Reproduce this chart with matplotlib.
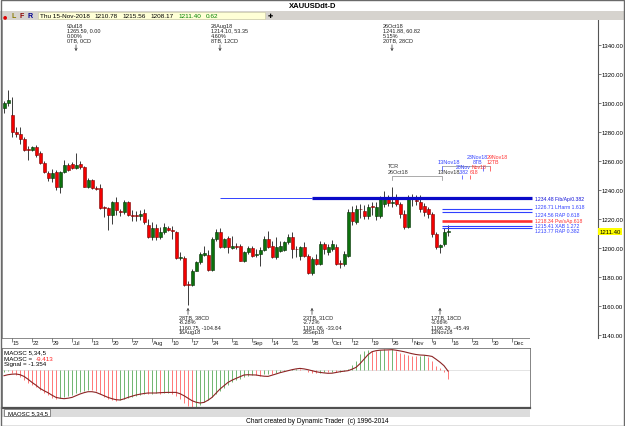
import numpy as np
import pandas as pd
import matplotlib
matplotlib.use('Agg')
import matplotlib.pyplot as plt
from matplotlib.patches import Rectangle

plt.rcParams['font.family'] = ['Liberation Sans Narrow', 'Liberation Sans', 'DejaVu Sans']

W, H = 625, 427

# daily XAUUSD bars, one per weekday from 13-Jun-2018 to 15-Nov-2018
opens = [1296.3, 1299.8, 1292.0, 1279.8, 1278.6, 1275.2, 1268.2, 1267.8, 1269.4, 1265.5,
         1258.8, 1251.9, 1248.3, 1252.2, 1241.8, 1252.4, 1257.0, 1257.9, 1255.2, 1257.9,
         1255.6, 1242.3, 1246.9, 1241.4, 1241.1, 1227.8, 1227.6, 1223.0, 1231.5, 1225.4,
         1224.6, 1231.5, 1222.8, 1223.0, 1221.8, 1223.9, 1216.1, 1207.8, 1213.8, 1207.4,
         1210.8, 1213.8, 1212.6, 1211.3, 1193.1, 1193.1, 1174.7, 1174.7, 1184.4, 1190.1,
         1195.4, 1195.4, 1184.8, 1206.2, 1210.8, 1200.9, 1206.9, 1200.0, 1201.1, 1201.6,
         1191.3, 1197.0, 1200.0, 1195.2, 1195.9, 1198.6, 1206.2, 1201.4, 1193.6, 1198.0,
         1198.6, 1203.9, 1207.3, 1199.3, 1194.7, 1200.9, 1194.7, 1182.5, 1192.4, 1189.0,
         1202.8, 1197.0, 1199.3, 1200.4, 1189.4, 1189.0, 1194.7, 1224.6, 1217.7, 1226.9,
         1225.7, 1222.3, 1228.5, 1222.3, 1222.3, 1230.3, 1233.8, 1231.2, 1234.9, 1230.3,
         1223.4, 1214.7, 1234.9, 1232.6, 1231.5, 1229.2, 1226.9, 1223.4, 1209.6, 1201.0,
         1202.8, 1210.78]
highs = [1301.6, 1309.0, 1303.9, 1283.2, 1283.7, 1276.3, 1270.6, 1270.3, 1271.0, 1267.1,
         1259.8, 1252.9, 1254.5, 1253.8, 1252.9, 1260.7, 1258.6, 1259.0, 1265.6, 1259.8,
         1256.8, 1248.3, 1247.6, 1243.0, 1244.1, 1229.2, 1228.0, 1232.2, 1234.9, 1226.9,
         1233.1, 1232.6, 1226.2, 1225.5, 1226.0, 1226.9, 1220.0, 1217.6, 1216.6, 1214.2,
         1217.0, 1215.4, 1215.4, 1211.9, 1197.0, 1194.7, 1177.5, 1185.5, 1191.2, 1197.0,
         1201.6, 1198.6, 1207.3, 1213.0, 1214.1, 1207.0, 1208.5, 1208.0, 1203.2, 1202.8,
         1198.2, 1201.6, 1201.6, 1199.3, 1200.5, 1208.5, 1211.9, 1205.0, 1207.3, 1205.0,
         1205.0, 1209.6, 1210.8, 1201.6, 1201.6, 1204.0, 1196.0, 1193.6, 1196.0, 1204.5,
         1204.0, 1203.0, 1205.5, 1203.0, 1192.0, 1198.0, 1227.0, 1229.0, 1229.5, 1230.5,
         1229.5, 1230.3, 1232.0, 1232.0, 1236.0, 1239.5, 1236.5, 1241.88, 1237.5, 1232.0,
         1226.0, 1236.5, 1237.0, 1236.8, 1236.5, 1231.0, 1228.5, 1225.0, 1211.0, 1203.0,
         1214.0, 1215.56]
lows = [1292.9, 1298.2, 1276.3, 1276.3, 1271.7, 1267.1, 1260.7, 1267.1, 1262.5, 1257.9,
        1251.5, 1246.4, 1245.3, 1240.0, 1238.2, 1251.5, 1252.9, 1254.3, 1254.5, 1254.5,
        1241.8, 1241.4, 1240.7, 1240.0, 1226.9, 1221.4, 1212.4, 1216.5, 1223.0, 1222.3,
        1223.5, 1222.3, 1218.4, 1218.8, 1219.3, 1216.5, 1206.9, 1205.5, 1205.5, 1206.2,
        1209.6, 1212.0, 1206.2, 1192.4, 1191.7, 1174.0, 1160.75, 1174.0, 1183.9, 1189.0,
        1194.7, 1183.9, 1183.9, 1205.0, 1200.0, 1200.0, 1196.3, 1199.3, 1199.3, 1190.8,
        1190.1, 1195.9, 1193.6, 1193.6, 1187.8, 1198.2, 1200.0, 1193.1, 1192.4, 1197.0,
        1198.2, 1202.8, 1193.1, 1193.6, 1192.0, 1193.6, 1181.8, 1181.06, 1188.5, 1188.0,
        1196.0, 1195.5, 1198.0, 1188.5, 1186.3, 1187.5, 1194.0, 1216.0, 1216.5, 1221.0,
        1220.0, 1220.0, 1222.5, 1219.0, 1221.0, 1228.0, 1229.0, 1228.5, 1229.0, 1221.0,
        1212.8, 1213.5, 1229.0, 1229.5, 1225.0, 1222.0, 1221.0, 1207.5, 1199.0, 1196.29,
        1201.5, 1208.17]
closes = [1299.8, 1302.1, 1279.8, 1278.6, 1275.2, 1267.8, 1267.8, 1269.4, 1264.4, 1258.4,
          1252.2, 1248.3, 1251.9, 1241.8, 1252.2, 1257.0, 1254.0, 1255.2, 1257.5, 1255.6,
          1242.3, 1246.9, 1241.4, 1241.0, 1227.6, 1227.4, 1223.0, 1231.5, 1226.2, 1224.8,
          1231.5, 1222.8, 1222.3, 1221.8, 1223.4, 1218.2, 1207.8, 1213.8, 1207.4, 1210.8,
          1214.3, 1212.6, 1211.5, 1193.1, 1193.4, 1174.7, 1174.4, 1184.4, 1190.1, 1195.9,
          1196.3, 1184.8, 1206.2, 1210.8, 1200.9, 1206.2, 1200.5, 1201.4, 1201.0, 1191.3,
          1197.0, 1200.0, 1194.7, 1195.9, 1198.6, 1206.2, 1200.9, 1193.6, 1200.9, 1201.6,
          1203.9, 1207.3, 1199.3, 1199.0, 1200.4, 1194.7, 1182.5, 1192.4, 1189.0, 1202.8,
          1199.3, 1200.4, 1202.8, 1189.0, 1189.2, 1195.9, 1224.6, 1218.9, 1226.9, 1226.6,
          1222.3, 1228.0, 1228.3, 1228.0, 1233.8, 1233.8, 1230.8, 1231.5, 1230.3, 1223.4,
          1214.7, 1233.8, 1234.4, 1232.3, 1226.9, 1224.6, 1223.4, 1209.6, 1200.9, 1202.0,
          1210.8, 1211.40]

# MAOSC 5,34,5 histogram and its signal line
maosc = [-2, -1.5, -3, -5, -7, -10, -13, -15, -17, -20,
         -23, -25, -28, -29, -28, -27, -26, -25, -23, -22,
         -21, -20, -20, -21, -24, -27, -29, -30, -31, -30,
         -29, -28, -27, -26, -25, -24, -24.5, -24, -23, -24,
         -23.5, -23, -24, -26, -29, -33, -36, -38, -37, -35,
         -32, -30, -27, -24, -21, -18, -15, -12, -10, -9,
         -7.5, -6.5, -5, -5.5, -6, -4.5, -4, -4.5, -3.5, -2.5,
         -1.5, 0, 0.5, 1, 0.5, -0.5, -2, -3, -3.5, -3,
         -2.5, -2.5, -2, -2.5, -2, -1, 1, 4.7, 9, 15.7,
         19, 20, 19, 18.7, 20, 20.3, 19.5, 20.7, 19, 16.7,
         15.7, 14.7, 14, 13.3, 14, 14.3, 12.3, 9, 4, 1.3,
         -2.7, -9.413]
signal = [-6, -5, -4.5, -4.3, -5, -6.7, -9.5, -12.7, -15.5, -18.7,
          -21, -23, -25.5, -27.7, -28.5, -29, -28.5, -27.7, -26, -24.3,
          -23, -22, -22, -22.7, -24.3, -26, -27.7, -29, -30, -30.3,
          -29.2, -27.7, -26.5, -25.3, -24.5, -23.8, -23.3, -23.3, -23.3, -23,
          -22.8, -22.7, -22.7, -22.7, -24, -26, -28.5, -31, -32.5, -33.3,
          -32.7, -30.5, -27.7, -23.5, -19.3, -16, -12.7, -10.5, -8.7, -7,
          -5.3, -5, -5.2, -5.3, -6, -6.5, -6.7, -5.5, -4.3, -3,
          -2, -1, 0, 0.8, 1.3, 0.8, 0, -1, -2, -2.7,
          -3.2, -3.6, -3.5, -2.8, -2, -1.5, -1, 0.5, 2.3, 6,
          10.5, 15, 18, 19, 19.5, 19.7, 19.8, 20, 19.5, 18.8,
          18, 17, 16, 15.2, 14.7, 14.5, 14, 13.3, 10.5, 7.5,
          4, -1.354]

first_day = '2018-06-13'
axis_end = '2018-12-07'
price_ticks = list(range(1140, 1341, 20))

level_prices = [1234.48, 1226.71, 1224.56, 1218.34, 1215.41, 1213.77]
level_labels = ['1234.48 Fib/Ap/0.382', '1226.71 LHarm 1.618', '1224.56 RAP 0.618',
                '1218.34 Pw/sAp.618', '1215.41 XAB 1.272', '1213.77 RAP 0.382']
level_colors = ['#1010d8', '#3040ff', '#3040ff', '#ff3030', '#3040ff', '#3040ff']

top_idx = [18, 54, 97]
top_notes = ['9Jul18\n1265.59, 0.00\n0.00%\n0TB, 0CD',
             '28Aug18\n1214.10, 53.35\n4.60%\n8TB, 12CD',
             '26Oct18\n1241.88, 60.82\n5.15%\n20TB, 28CD']
bot_idx = [46, 77, 109]
bot_notes = ['28TB, 38CD\n-8.28%\n1160.75, -104.84\n16Aug18',
             '23TB, 31CD\n-2.72%\n1181.06, -33.04\n28Sep18',
             '12TB, 18CD\n-3.66%\n1196.29, -45.49\n13Nov18']

header_date = 'Thu 15-Nov-2018'
header_vals = ['1210.78', '1215.56', '1208.17', '1211.40', '0.62']


def fx(px):
    return px / W


def fy(py):
    return 1 - py / H


def ax_px(l, t, w, h):
    return fig.add_axes([l / W, 1 - (t + h) / H, w / W, h / H])


fig = plt.figure(figsize=(W / 100, H / 100), dpi=100)
fig.patch.set_facecolor('white')

# header strip
fig.patches.append(Rectangle((0, fy(20.5)), 1, 8.5 / H, transform=fig.transFigure,
                             facecolor='#d6d3ce', edgecolor='none'))
fig.patches.append(Rectangle((fx(38), fy(20)), 227 / W, 7.5 / H, transform=fig.transFigure,
                             facecolor='#ffffd6', edgecolor='#c8c8a0', lw=0.4))
fig.text(fx(313), fy(6.5), 'XAUUSDdt-D', ha='center', va='center', fontsize=5.5, weight='bold')
fig.text(fx(3), fy(16.5), '●', color='#e00000', fontsize=3.5, va='center', family='DejaVu Sans')
for px, letter, col in [(11, 'L', '#8a7a00'), (19, 'F', '#8b0000'), (27, 'R', '#000090')]:
    fig.text(fx(px), fy(16.5), letter, color=col, fontsize=5, weight='bold', va='center')
fig.text(fx(40), fy(16.5), header_date, fontsize=4.6, va='center')
for k, v in enumerate(header_vals):
    col = '#008000' if k >= 3 else 'black'
    fig.text(fx(94 + 28 * k), fy(16.5), v, fontsize=4.6, va='center', color=col)
fig.text(fx(268), fy(16.5), '✚', fontsize=4.5, va='center', family='DejaVu Sans')

# ---- price chart
x = np.arange(len(closes))
o = np.array(opens)
c = np.array(closes)
hi = np.array(highs)
lo = np.array(lows)
up = c >= o

ax = ax_px(2, 21, 596, 318)
ax.set_xlim(-0.5, 148.5)
ax.set_ylim(1340 - 318 / 1.45 + 25 / 1.45, 1340 + 25 / 1.45)
ax.vlines(x, lo, hi, color='#3a3a3a', lw=0.7, zorder=2)
body = np.maximum(np.abs(c - o), 0.6)
bottom = np.minimum(o, c)
ax.bar(x[up], body[up], bottom=bottom[up], width=0.75, color='#0c700c',
       edgecolor='#023002', lw=0.4, zorder=3)
ax.bar(x[~up], body[~up], bottom=bottom[~up], width=0.75, color='#f20000',
       edgecolor='#7a0000', lw=0.4, zorder=3)

# support / resistance levels
line_end = 132
ax.hlines(level_prices[0], top_idx[1], bot_idx[1], color='#3040ff', lw=0.7, zorder=1)
ax.hlines(level_prices[0], bot_idx[1], line_end, color='#0a0ac8', lw=2.3, zorder=4)
for p, col in zip(level_prices[1:], level_colors[1:]):
    lw = 1.9 if col == '#ff3030' else 0.8
    ax.hlines(p, bot_idx[2] + 0.5, line_end, color=col, lw=lw, zorder=4)
# labels nudged apart a little so the tightly packed levels stay legible
label_nudge = [0, 1.6, -1.6, 0.9, -0.2, -1.9]
for p, dy, lab, col in zip(level_prices, label_nudge, level_labels, level_colors):
    ax.text(line_end + 0.8, p + dy, lab, color=col, fontsize=3.7, va='center', ha='left')

# time projections
gray = '#8a8a8a'
ax.plot([bot_idx[2] - 12, bot_idx[2] - 12, bot_idx[2] + 0.5, bot_idx[2] + 0.5],
        [1246.9, 1249.4, 1249.4, 1246.9], color=gray, lw=0.5)
ax.text(96, 1255.6, 'TCR', fontsize=4, color='#333333')
ax.text(96, 1252.0, '26Oct18', fontsize=4, color='#333333')
ax.plot([bot_idx[2] + 0.5, 121.5], [1256.3, 1256.3], color=gray, lw=0.5)
ax.vlines([bot_idx[2] + 0.5], 1253.3, 1256.3, color='#3040ff', lw=0.5)
ax.vlines([119.75], 1253.3, 1256.3, color='#3040ff', lw=0.5)
ax.vlines([121.5], 1253.3, 1256.3, color='#ff3030', lw=0.5)
ax.vlines([114.5], 1247.6, 1250.3, color='#3040ff', lw=0.5)
ax.vlines([116.5], 1247.6, 1250.3, color='#ff3030', lw=0.5)
ax.text(108.3, 1258.4, '13Nov18', fontsize=4, color='#3040ff')
ax.text(108.3, 1251.6, '13Nov18', fontsize=4, color='#333333')
ax.text(113.0, 1255.0, '28Nov', fontsize=3.7, color='#3040ff')
ax.text(116.9, 1255.0, 'Nov18', fontsize=3.7, color='#ff3030')
ax.text(113.6, 1251.6, '.382', fontsize=3.7, color='#3040ff')
ax.text(116.5, 1251.6, '618', fontsize=3.7, color='#ff3030')
ax.text(115.7, 1261.8, '23Nov18', fontsize=3.8, color='#3040ff')
ax.text(117.2, 1258.4, '8TB', fontsize=3.8, color='#3040ff')
ax.text(120.6, 1261.8, '29Nov18', fontsize=3.8, color='#ff3030')
ax.text(120.6, 1258.4, '12TB', fontsize=3.8, color='#ff3030')

# swing notes
for idx, note in zip(top_idx, top_notes):
    ax.text(idx - 2.3, 0.992, note, transform=ax.get_xaxis_transform(), fontsize=4,
            va='top', ha='left', linespacing=1.0, color='#222222')
    ax.annotate('', xy=(idx, 0.902), xytext=(idx, 0.922), xycoords=('data', 'axes fraction'),
                arrowprops=dict(arrowstyle='->', lw=0.5, color='#333333',
                                mutation_scale=4, shrinkA=0, shrinkB=0))
for idx, note in zip(bot_idx, bot_notes):
    ax.text(idx - 2.3, 0.076, note, transform=ax.get_xaxis_transform(), fontsize=4,
            va='top', ha='left', linespacing=1.0, color='#222222')
    ax.annotate('', xy=(idx, 0.095), xytext=(idx, 0.074), xycoords=('data', 'axes fraction'),
                arrowprops=dict(arrowstyle='->', lw=0.5, color='#333333',
                                mutation_scale=4, shrinkA=0, shrinkB=0))

ax.yaxis.tick_right()
ax.set_yticks(price_ticks)
ax.set_yticklabels(['%.2f' % t for t in price_ticks])
ax.tick_params(axis='y', length=2, width=0.5, pad=0.6, labelsize=4.3, color='#444444')
ax.set_xticks([])
for s in ['top', 'bottom']:
    ax.spines[s].set_visible(False)
ax.spines['right'].set_color('#555555')
ax.spines['right'].set_linewidth(0.8)
ax.spines['left'].set_color('#888888')
ax.spines['left'].set_linewidth(0.6)
ax.text(1.002, closes[-1], '%.2f' % closes[-1], transform=ax.get_yaxis_transform(),
        fontsize=4.3, va='center', ha='left',
        bbox=dict(facecolor='#ffff00', edgecolor='none', pad=0.9))

# ---- date strip
days = pd.bdate_range(first_day, axis_end)
fridays = [(k, d) for k, d in enumerate(days) if d.weekday() == 4]
dax = ax_px(2, 339, 528, 9)
dax.set_xlim(-0.5, 131.5)
dax.set_ylim(0, 1)
dax.axis('off')
dax.axhline(1, color='#777777', lw=0.6)
for k, d in fridays:
    lab = d.strftime('%b') if d.day <= 7 else str(d.day)
    dax.vlines(k, 0.6, 1.0, color='#555555', lw=0.5)
    dax.text(k + 0.25, 0.45, lab, fontsize=4.2, va='center', ha='left', color='#222222')

# ---- MAOSC panel
m = np.array(maosc)
rising = np.r_[True, np.diff(m) > 0]
oax = ax_px(2, 349, 528, 60)
oax.set_xlim(-0.5, 131.5)
oax.set_ylim(-38.3, 21.7)
oax.axhline(0, color='#d0d0d0', lw=0.4)
oax.vlines(x[rising], 0, m[rising], color='#5aaa5a', lw=0.6)
oax.vlines(x[~rising], 0, m[~rising], color='#ff6060', lw=0.6)
oax.plot(x, signal, color='#8c2424', lw=0.8)
oax.set_xticks([])
oax.set_yticks([])
for s in oax.spines.values():
    s.set_color('#707070')
    s.set_linewidth(0.6)
oax.spines['bottom'].set_linewidth(1.6)
oax.spines['bottom'].set_color('#505050')
oax.text(0.004, 0.935, 'MAOSC 5,34,5', transform=oax.transAxes, fontsize=4.5, va='center')
oax.text(0.004, 0.83, 'MAOSC = ', transform=oax.transAxes, fontsize=4.5, va='center')
oax.text(0.063, 0.83, '%.3f' % maosc[-1], transform=oax.transAxes, fontsize=4.5,
         va='center', color='#ff2020')
oax.text(0.004, 0.735, 'Signal = %.3f' % signal[-1], transform=oax.transAxes,
         fontsize=4.5, va='center')

# ---- bottom bar
fig.patches.append(Rectangle((fx(2), fy(418)), 528 / W, 8.5 / H, transform=fig.transFigure,
                             facecolor='#dcdcdc', edgecolor='none'))
fig.patches.append(Rectangle((fx(4), fy(417)), 46 / W, 7.5 / H, transform=fig.transFigure,
                             facecolor='white', edgecolor='#606060', lw=0.5))
fig.text(fx(8), fy(413.3), 'MAOSC 5,34,5', fontsize=4.3, va='center')
fig.text(fx(246), fy(421.8), 'Chart created by Dynamic Trader  (c) 1996-2014',
         fontsize=4.8, va='center')
fig.patches.append(Rectangle((0.001, 0.001), 0.998, 0.997, transform=fig.transFigure,
                             fill=False, edgecolor='#6a6a6a', lw=1.0))

fig.savefig('out.png', dpi=100)
